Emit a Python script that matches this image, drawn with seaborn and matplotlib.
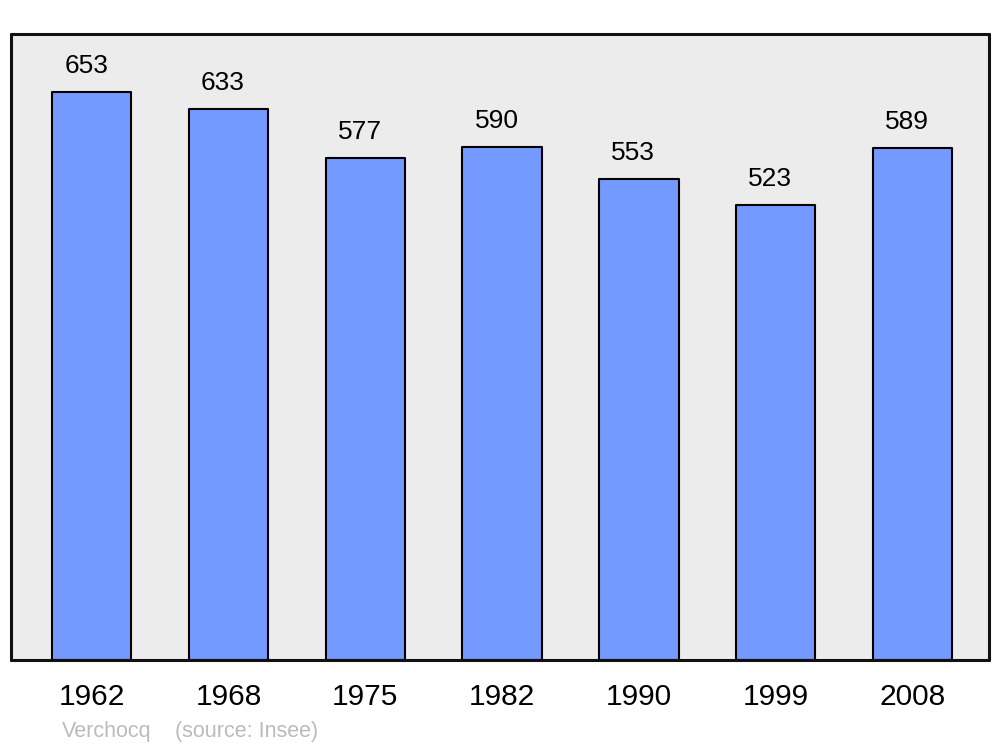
import pandas as pd
import seaborn as sns
import matplotlib.pyplot as plt

years = ['1962', '1968', '1975', '1982', '1990', '1999', '2008']
population = [653, 633, 577, 590, 553, 523, 589]
commune = 'Verchocq'
source = '(source: Insee)'

df = pd.DataFrame({'year': years, 'pop': population})

sns.set_style('white')
plt.rcParams['font.family'] = ['Liberation Sans', 'DejaVu Sans']

fig = plt.figure(figsize=(10, 7.47), dpi=100)
ax = fig.add_axes([0.011, 0.1165, 0.978, 0.8385])
ax.set_facecolor('#ececec')

sns.barplot(data=df, x='year', y='pop', color='#7499ff', saturation=1,
            width=0.58, edgecolor='black', linewidth=1.5, ax=ax)
for p in ax.patches:
    p.set_joinstyle('round')

for i, v in enumerate(population):
    ax.text(i - 0.04, v + 16, str(v), ha='center', va='bottom',
            fontsize=19, color='black')

ax.set_xlim(-0.59, 6.56)
ax.set_ylim(0, 720)
ax.set_yticks([])
ax.set_xlabel('')
ax.set_ylabel('')
ax.tick_params(axis='x', length=0, labelsize=21.5, pad=16.5, labelcolor='black')
for s in ax.spines.values():
    s.set_visible(True)
    s.set_linewidth(2.2)
    s.set_color('#111111')
    s.set_capstyle('round')

fig.text(0.062, 0.014, commune, fontsize=15.5, color='#bbbbbb')
fig.text(0.175, 0.014, source, fontsize=15.5, color='#bbbbbb')

fig.savefig('out.png', dpi=100)
